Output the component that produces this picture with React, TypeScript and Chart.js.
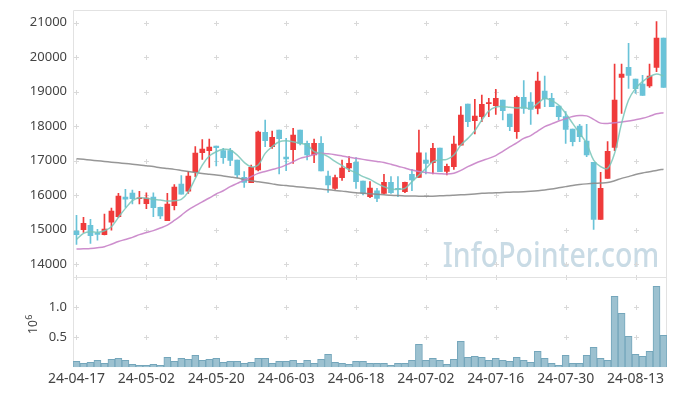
import React, { useEffect, useRef } from 'react';
import { Chart, registerables } from 'chart.js';

Chart.register(...registerables);

const dates = [
  '24-04-17','24-04-18','24-04-19','24-04-22','24-04-23','24-04-24','24-04-25','24-04-26','24-04-29','24-04-30',
  '24-05-02','24-05-03','24-05-07','24-05-08','24-05-09','24-05-10','24-05-13','24-05-14','24-05-16','24-05-17',
  '24-05-20','24-05-21','24-05-22','24-05-23','24-05-24','24-05-27','24-05-28','24-05-29','24-05-30','24-05-31',
  '24-06-03','24-06-04','24-06-05','24-06-07','24-06-10','24-06-11','24-06-12','24-06-13','24-06-14','24-06-17',
  '24-06-18','24-06-19','24-06-20','24-06-21','24-06-24','24-06-25','24-06-26','24-06-27','24-06-28','24-07-01',
  '24-07-02','24-07-03','24-07-04','24-07-05','24-07-08','24-07-09','24-07-10','24-07-11','24-07-12','24-07-15',
  '24-07-16','24-07-17','24-07-18','24-07-19','24-07-22','24-07-23','24-07-24','24-07-25','24-07-26','24-07-29',
  '24-07-30','24-07-31','24-08-01','24-08-02','24-08-05','24-08-06','24-08-07','24-08-08','24-08-09','24-08-12',
  '24-08-13','24-08-14','24-08-16','24-08-19','24-08-20',
];

const dateTicks = ['24-04-17','24-05-02','24-05-20','24-06-03','24-06-18','24-07-02','24-07-16','24-07-30','24-08-13'];

const openPrices = [
  14963,15000,15127,14905,14857,15224,15378,15948,16064,15900,
  15755,15948,15649,15262,15697,16325,16122,16682,17233,17291,
  17426,17292,17292,17021,16519,16364,16731,17823,17407,17890,
  17108,17321,17890,17504,17166,17504,16557,16200,16509,16789,
  16953,16412,15958,16132,16055,16374,16200,16103,16605,16518,
  17021,16943,17369,16692,16827,17455,18644,18161,18277,18653,
  18596,18760,18354,17842,18837,18702,18518,19020,18808,18586,
  18277,17919,18006,17572,16953,15302,16490,17388,19417,19706,
  19368,19223,19165,19706,20557,
];
const highPrices = [
  15417,15359,15301,15012,15456,15630,16055,16170,16151,16112,
  16074,16074,15660,16055,16306,16567,16692,17407,17610,17629,
  17426,17359,17359,17021,16683,16876,17862,18180,17862,17890,
  17649,17939,17890,17572,17630,17697,16702,16586,17021,17118,
  17089,16412,16393,16200,16605,16538,16538,16380,16750,17890,
  17233,17504,17369,16905,17716,18566,18644,18779,18905,18808,
  19069,18760,18354,18876,19320,18972,19571,19455,18953,18586,
  18422,17919,18055,18055,16953,16664,17552,19803,19803,20402,
  19368,19475,19803,21030,20557,
];
const lowPrices = [
  14577,14924,14606,14702,14850,14992,15359,15649,15746,15746,
  15610,15378,15320,15262,15572,16035,16055,16538,17040,16808,
  16847,16924,16857,16509,16229,16364,16702,17407,17359,16615,
  16712,16924,17460,17021,16944,16702,16084,16171,16432,16683,
  16200,16007,15930,15813,16036,16055,15958,16074,16132,16518,
  16615,16615,16683,16586,16750,17455,17987,17774,18132,18277,
  18344,18180,17871,17649,18373,18055,18354,18566,18567,18180,
  17504,17427,17552,17118,15012,15302,16490,17291,18373,19098,
  18953,18895,19127,19581,19127,
];
const closePrices = [
  14857,15185,14828,14866,15021,15543,15977,15890,15900,15929,
  15919,15639,15398,15745,16238,16035,16557,17223,17339,17397,
  17378,17089,17011,16586,16374,16809,17833,17581,17678,17639,
  17050,17746,17504,17166,17504,16702,16297,16509,16789,16924,
  16393,16055,16210,15910,16374,16074,16170,16374,16441,17233,
  16924,17359,16683,16837,17484,18325,18132,18296,18634,18663,
  18808,18451,17987,18837,18518,18489,19310,18789,18567,18277,
  17910,17552,17697,17166,15302,16200,17272,18760,19513,19475,
  19088,18895,19455,20557,19127,
];

const maShort = [
  14721,14895,14944,14924,14973,15089,15359,15620,15842,15929,
  15910,15881,15861,15832,15842,15881,16100,16489,16876,17137,
  17262,17330,17311,17166,16953,16828,16876,17214,17408,17552,
  17581,17552,17504,17456,17263,17214,17120,16980,16860,16740,
  16650,16538,16460,16345,16248,16180,16171,16200,16393,16586,
  16779,16973,17021,17040,17166,17455,17649,17871,18180,18440,
  18560,18567,18547,18530,18547,18508,18663,18808,18741,18615,
  18373,18084,17794,17504,17021,16828,16779,17214,18084,18760,
  19098,19291,19436,19513,19455,
];
const maMid = [
  14441,14450,14460,14480,14510,14580,14660,14720,14780,14860,
  14920,14975,15050,15137,15270,15420,15580,15700,15810,15920,
  16040,16130,16250,16345,16440,16540,16635,16690,16745,16800,
  16880,16970,17069,17120,17180,17214,17200,17175,17140,17100,
  17070,17040,17010,16980,16950,16900,16840,16790,16730,16690,
  16660,16640,16625,16615,16640,16720,16828,16920,17000,17069,
  17150,17270,17400,17520,17649,17730,17860,17987,18070,18150,
  18220,18280,18310,18300,18200,18090,18080,18100,18120,18150,
  18190,18230,18290,18360,18393,
];
const maLong = [
  17060,17040,17020,17000,16980,16960,16940,16920,16900,16880,
  16855,16830,16800,16775,16750,16720,16690,16660,16630,16610,
  16590,16560,16530,16500,16460,16420,16390,16360,16330,16300,
  16280,16260,16240,16220,16200,16180,16160,16140,16120,16095,
  16074,16060,16045,16030,16015,16000,15990,15982,15978,15975,
  15975,15975,15985,15990,16000,16012,16025,16040,16055,16065,
  16072,16080,16088,16095,16103,16115,16130,16150,16180,16215,
  16250,16285,16310,16330,16346,16355,16368,16420,16490,16540,
  16600,16645,16680,16720,16755,
];

const volumes = [
  100000,67000,83000,117000,67000,133000,150000,117000,50000,33000,
  33000,50000,33000,167000,100000,150000,133000,200000,117000,133000,
  150000,83000,100000,100000,67000,83000,150000,150000,67000,100000,
  100000,117000,67000,117000,67000,133000,217000,83000,67000,50000,
  100000,100000,67000,67000,67000,33000,67000,67000,117000,383000,
  117000,150000,117000,50000,133000,433000,167000,183000,167000,117000,
  150000,117000,100000,167000,117000,83000,267000,150000,67000,33000,
  200000,67000,67000,200000,333000,150000,117000,1183000,900000,517000,
  217000,183000,267000,1350000,533000,
];

const priceTicks = [14000, 15000, 16000, 17000, 18000, 19000, 20000, 21000];
const volumeTicks = [500000, 1000000];
const volumeGridTicks = [500000, 1000000, 1500000];
const watermark = 'InfoPointer.com';

const UP = '#ef3b3b';
const DOWN = '#6ac3d8';
const FONT = "'Noto Sans', sans-serif";

const panelPlugin = {
  id: 'panels',
  beforeDatasetsDraw(chart: any) {
    const { ctx, chartArea: a, scales } = chart;
    const xs = scales.x;
    const yp = scales.y;
    const yv = scales.yv;
    // watermark
    ctx.save();
    ctx.font = `500 35px ${FONT}`;
    const w = ctx.measureText(watermark).width;
    const targetW = 216.6;
    ctx.fillStyle = '#c9dbe5';
    ctx.textBaseline = 'alphabetic';
    ctx.textAlign = 'left';
    ctx.translate(a.right - 7.7 - targetW, yp.bottom - 10.6);
    ctx.scale(targetW / w, 1);
    ctx.fillText(watermark, 0, 0);
    ctx.restore();
    // crosses
    ctx.save();
    ctx.strokeStyle = '#d9d9d9';
    ctx.lineWidth = 1;
    ctx.beginPath();
    const cols = dateTicks.map((d) => xs.getPixelForValue(dates.indexOf(d)));
    const rows = [
      ...priceTicks.map((v) => yp.getPixelForValue(v)),
      ...volumeGridTicks.map((v) => yv.getPixelForValue(v)),
    ];
    for (const px of cols) {
      for (const py of rows) {
        const cx = Math.round(px) + 0.5;
        const cy = Math.round(py) + 0.5;
        ctx.moveTo(cx - 2.5, cy);
        ctx.lineTo(cx + 2.5, cy);
        ctx.moveTo(cx, cy - 2.5);
        ctx.lineTo(cx, cy + 2.5);
      }
    }
    ctx.stroke();
    // frame
    ctx.strokeStyle = '#e2e2e2';
    ctx.beginPath();
    const L = Math.round(a.left) + 0.5;
    const R = Math.round(a.right) - 0.5;
    const T = Math.round(a.top) + 0.5;
    const B = Math.round(a.bottom) - 0.5;
    const D = Math.round(yp.bottom) + 0.5;
    ctx.moveTo(L, T); ctx.lineTo(R, T); ctx.lineTo(R, B); ctx.lineTo(L, B); ctx.closePath();
    ctx.moveTo(L, D); ctx.lineTo(R, D);
    ctx.stroke();
    ctx.restore();
  },
  afterDraw(chart: any) {
    const { ctx, chartArea: a, scales } = chart;
    const yv = scales.yv;
    const mid = (yv.top + yv.bottom) / 2;
    ctx.save();
    ctx.fillStyle = '#444';
    ctx.font = `12px ${FONT}`;
    const w1 = ctx.measureText('10').width;
    ctx.font = `9px ${FONT}`;
    const w2 = ctx.measureText('6').width;
    const total = w1 + w2 + 0.5;
    ctx.translate(a.left - 36.3, mid + total / 2 + 2);
    ctx.rotate(-Math.PI / 2);
    ctx.textAlign = 'left';
    ctx.textBaseline = 'alphabetic';
    ctx.font = `12px ${FONT}`;
    ctx.fillText('10', 0, 0);
    ctx.font = `9px ${FONT}`;
    ctx.fillText('6', w1 + 0.5, -5);
    ctx.restore();
  },
};

const noPadY = (s: any) => {
  s.width = 65;
  s.paddingTop = 0;
  s.paddingBottom = 0;
};

export default function App() {
  const ref = useRef<HTMLCanvasElement>(null);

  useEffect(() => {
    if (!ref.current) return;
    Chart.defaults.font.family = FONT;
    const colors = closePrices.map((c, i) => (c >= openPrices[i] ? UP : DOWN));
    const chart = new Chart(ref.current, {
      type: 'bar',
      data: {
        labels: dates,
        datasets: [
          {
            type: 'line', label: 'MA short', data: maShort, yAxisID: 'y',
            borderColor: 'rgba(120,198,184,0.85)', borderWidth: 1.5, pointRadius: 0, tension: 0.35, order: 0,
          },
          {
            type: 'line', label: 'MA mid', data: maMid, yAxisID: 'y',
            borderColor: 'rgba(200,130,200,0.9)', borderWidth: 1.5, pointRadius: 0, tension: 0.35, order: 0,
          },
          {
            type: 'line', label: 'MA long', data: maLong, yAxisID: 'y',
            borderColor: 'rgba(140,140,140,0.9)', borderWidth: 1.5, pointRadius: 0, tension: 0.35, order: 0,
          },
          {
            type: 'bar', label: 'body', data: openPrices.map((o, i) => [o, closePrices[i]]), yAxisID: 'y',
            backgroundColor: colors, barThickness: 5, grouped: false, minBarLength: 1, order: 1,
          },
          {
            type: 'bar', label: 'wick', data: lowPrices.map((l, i) => [l, highPrices[i]]), yAxisID: 'y',
            backgroundColor: colors, barThickness: 1, grouped: false, order: 2,
          },
          {
            type: 'bar', label: 'volume', data: volumes, yAxisID: 'yv',
            backgroundColor: '#9cc1d0', borderColor: '#74a6bb', borderWidth: 1, barThickness: 7, grouped: false, order: 3,
          },
        ] as any,
      },
      options: {
        animation: false,
        responsive: true,
        maintainAspectRatio: false,
        layout: { padding: { top: 2, right: 2, left: 0, bottom: 0 } },
        plugins: { legend: { display: false }, tooltip: { enabled: false } },
        scales: {
          x: {
            type: 'category',
            offset: true,
            grid: { display: false, drawTicks: false },
            border: { display: false },
            ticks: {
              autoSkip: false, maxRotation: 0, minRotation: 0, padding: 3, color: '#444',
              font: { size: 14 },
              callback: (_v: any, i: number) => (dateTicks.includes(dates[i]) ? dates[i] : ''),
            },
            afterFit: (s: any) => { s.height = 20.7; s.paddingLeft = 0; s.paddingRight = 0; },
          },
          yv: {
            type: 'linear', position: 'left', stack: 'panes', stackWeight: 90,
            min: 0, max: 1500000,
            grid: { display: false, drawTicks: false },
            border: { display: false },
            afterBuildTicks: (s: any) => { s.ticks = volumeTicks.map((v) => ({ value: v })); },
            ticks: { padding: 6, color: '#444', font: { size: 13 }, callback: (v: any) => (Number(v) / 1e6).toFixed(1) },
            afterFit: noPadY,
          },
          y: {
            type: 'linear', position: 'left', stack: 'panes', stackWeight: 267.3,
            min: 13623, max: 21368,
            grid: { display: false, drawTicks: false },
            border: { display: false },
            afterBuildTicks: (s: any) => { s.ticks = priceTicks.map((v) => ({ value: v })); },
            ticks: { padding: 6, color: '#444', font: { size: 13 }, callback: (v: any) => String(v) },
            afterFit: noPadY,
          },
        } as any,
      },
      plugins: [panelPlugin],
    } as any);
    return () => chart.destroy();
  }, []);

  return (
    <div style={{ position: 'relative', width: 661, height: 380 }}>
      <canvas ref={ref} style={{ display: 'block' }} />
    </div>
  );
}
